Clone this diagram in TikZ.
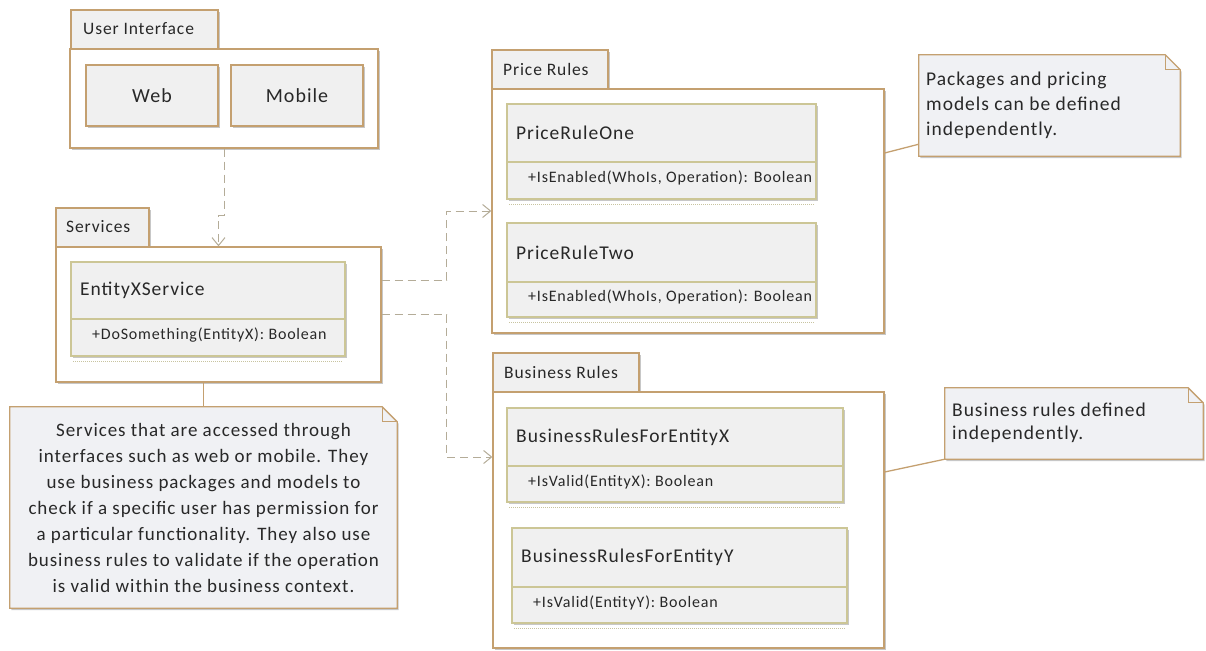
\documentclass[tikz,border=0pt]{standalone}
\usepackage{fontspec}
\setmainfont{Carlito}[LetterSpace=5]
\usetikzlibrary{arrows.meta,calc,fit,shadows}
\definecolor{pkgc}{RGB}{196,160,112}
\definecolor{clsc}{RGB}{204,198,150}
\definecolor{boxfill}{RGB}{240,240,240}
\definecolor{notefill}{RGB}{240,241,244}
\definecolor{dashc}{RGB}{180,172,152}
\definecolor{txtc}{RGB}{40,40,40}
\definecolor{dotc}{RGB}{200,196,160}
\tikzset{
  shad/.style={drop shadow={shadow xshift=1.5pt,shadow yshift=-2pt,opacity=0.22,fill=black}},
  pkgtab/.style={draw=pkgc,line width=1.3pt,fill=boxfill,inner sep=0pt,shad},
  pkgbody/.style={draw=pkgc,line width=1.3pt,fill=white,inner sep=0pt,shad},
  plainbox/.style={draw=pkgc,line width=1.3pt,fill=boxfill,inner sep=0pt,shad},
  boxlabel/.style={inner sep=0pt,font=\fontsize{20}{24}\selectfont,text=txtc},
  clsbox/.style={draw=clsc,line width=1.3pt,fill=boxfill,inner sep=0pt,shad},
  clsname/.style={anchor=west,inner sep=0pt,font=\fontsize{19.5}{23}\selectfont,text=txtc},
  clsop/.style={anchor=west,inner sep=0pt,font=\fontsize{16}{19}\selectfont,text=txtc},
  tablabel/.style={anchor=west,inner sep=0pt,font=\fontsize{17.5}{21}\selectfont,text=txtc},
  notebox/.style={draw=pkgc,line width=1.3pt,fill=notefill,shad},
  notetext/.style={inner sep=0pt,text=txtc},
  dep/.style={draw=dashc,line width=1pt,dash pattern=on 8pt off 5pt,-{Straight Barb[length=8pt,width=13pt,line width=1pt]}},
  link/.style={draw=pkgc,line width=1.3pt},
}
\newcommand\umlclass[8]{% name,x1,y1,x2,y2,div,title,op
  \node[clsbox,fit={(#2,#3) (#4,#5)}] (#1) {};
  \draw[clsc,line width=1.3pt] (#1.west |- 0,#6) -- (#1.east |- 0,#6);
  \draw[dotc,line width=1pt,densely dotted] ($(#1.south west)+(3,5)$) -- ($(#1.south east)+(-3,5)$);
  \node[clsname] (#1-name) at ({#2+9},{(#3+#6)/2}) {#7};
  \node[clsop] (#1-op) at ({#2+21},{(#6+#5)/2-2.5}) {#8};
}
\newcommand\umlnote[5]{% name,x1,y1,x2,y2
  \node[fit={(#2,#3) (#4,#5)},inner sep=0pt] (#1) {};
  \filldraw[notebox] (#1.north west) -- ($(#1.north east)+(-15,0)$) -- ($(#1.north east)+(0,15)$) -- (#1.south east) -- (#1.south west) -- cycle;
  \draw[pkgc,line width=1pt] ($(#1.north east)+(-15,0)$) -- ($(#1.north east)+(-15,15)$) -- ($(#1.north east)+(0,15)$);
}
\begin{document}
\begin{tikzpicture}[x=1pt,y=-1pt]
\useasboundingbox (0,0) rectangle (1206,650);
% ---------- User Interface
\node[pkgtab,fit={(71,10) (218,49)}] (uitab) {};
\node[tablabel] (uitabl) at (83,29) {User Interface};
\node[pkgbody,fit={(70,49) (378,148)}] (ui) {};
\node[plainbox,fit={(86,65) (218,126)}] (web) {};
\node[boxlabel] (webl) at (web.center) {Web};
\node[plainbox,fit={(231,65) (363,126)}] (mob) {};
\node[boxlabel] (mobl) at (mob.center) {Mobile};
% ---------- Services
\node[pkgtab,fit={(56,208) (149,247)}] (svctab) {};
\node[tablabel] (svctabl) at (66,227) {Services};
\node[pkgbody,fit={(56,247) (381,382)}] (svc) {};
\umlclass{exs}{71}{262}{345}{356}{319}{EntityXService}{+DoSomething(EntityX): Boolean}
% ---------- Price Rules
\node[pkgtab,fit={(492,50) (608,89)}] (prtab) {};
\node[tablabel] (prtabl) at (503,69) {Price Rules};
\node[pkgbody,fit={(492,89) (884,333)}] (price) {};
\umlclass{pro}{507}{104}{816}{199}{162}{PriceRuleOne}{+IsEnabled(WhoIs, Operation): Boolean}
\umlclass{prt}{507}{223}{816}{317}{282}{PriceRuleTwo}{+IsEnabled(WhoIs, Operation): Boolean}
% ---------- Business Rules
\node[pkgtab,fit={(493,353) (639,392)}] (brtab) {};
\node[tablabel] (brtabl) at (504,372) {Business Rules};
\node[pkgbody,fit={(493,392) (884,648)}] (biz) {};
\umlclass{brx}{507}{408}{843}{502}{466}{BusinessRulesForEntityX}{+IsValid(EntityX): Boolean}
\umlclass{bry}{512}{528}{847}{623}{587}{BusinessRulesForEntityY}{+IsValid(EntityY): Boolean}
% ---------- Notes
\umlnote{snote}{10}{407}{397}{608}
\node[notetext,align=center,font=\fontsize{19}{26}\selectfont] (snotet) at (snote.center) {Services that are accessed through\\interfaces such as web or mobile. They\\use business packages and models to\\check if a specific user has permission for\\a particular functionality. They also use\\business rules to validate if the operation\\is valid within the business context.};
\umlnote{pnote}{919}{55}{1180}{156}
\node[notetext,anchor=west,align=left,font=\fontsize{19.5}{25}\selectfont] (pnotet) at (926,105) {Packages and pricing\\models can be defined\\independently.};
\umlnote{bnote}{945}{388}{1203}{459}
\node[notetext,anchor=west,align=left,font=\fontsize{19.5}{23}\selectfont] (bnotet) at (952,423) {Business rules defined\\independently.};
% ---------- Connectors
\draw[dep] (ui.south) -- ++(0,67) -| (svc.north);
\draw[dep] ($(svc.east)+(0,-34.5)$) -- ++(65,0) |- (price.west);
\draw[dep] (svc.east) -- ++(65,0) |- ($(biz.west)+(0,-63)$);
\draw[link] (snote.north) -- (snote.north |- svc.south);
\draw[link] (price.east |- 0,153) -- ($(pnote.south west)+(0,-12)$);
\draw[link] ($(biz.east)+(0,-48)$) -- (bnote.south west);
\end{tikzpicture}
\end{document}
